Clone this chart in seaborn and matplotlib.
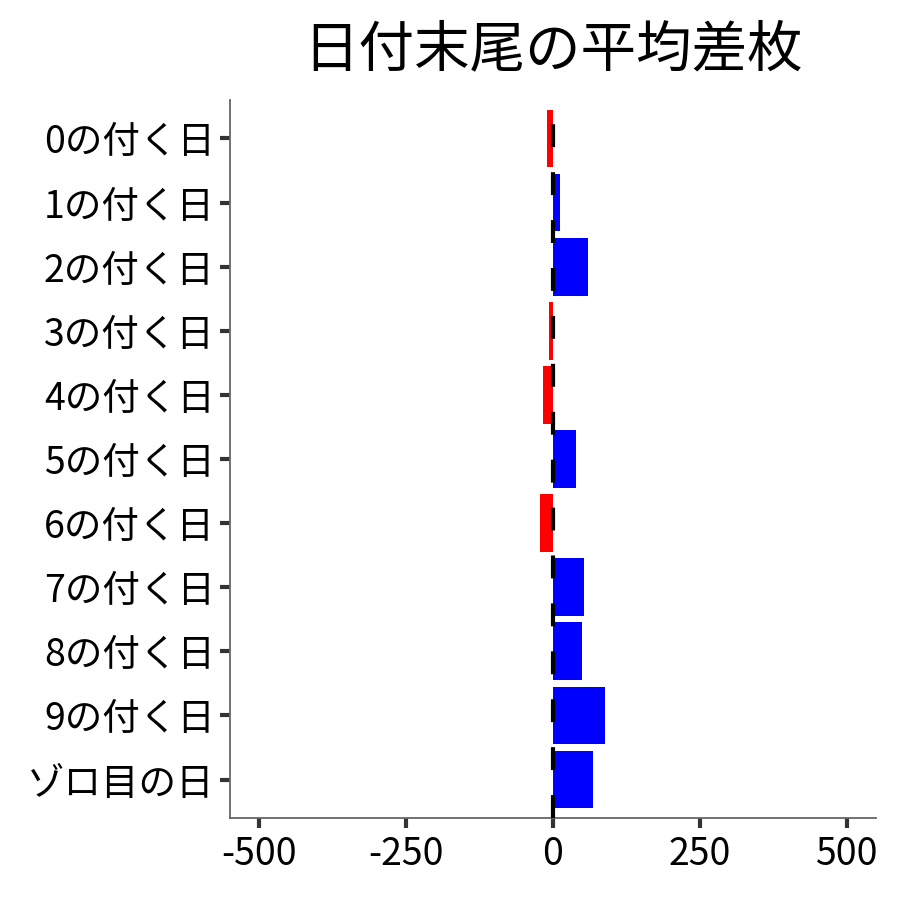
import pandas as pd
import matplotlib
matplotlib.use("Agg")
import matplotlib.pyplot as plt
import seaborn as sns

# データ
categories = ['0の付く日', '1の付く日', '2の付く日', '3の付く日', '4の付く日',
              '5の付く日', '6の付く日', '7の付く日', '8の付く日', '9の付く日',
              'ゾロ目の日']
avg_diff = [-11, 12, 60, -7, -17, 39, -22, 53, 49, 88, 68]
x_ticks = [-500, -250, 0, 250, 500]

df = pd.DataFrame({'day': categories, 'diff': avg_diff})
df['sign'] = ['plus' if v >= 0 else 'minus' for v in df['diff']]

sns.set_style("white")
plt.rcParams['font.family'] = ['Noto Sans CJK JP', 'DejaVu Sans']

fig = plt.figure(figsize=(9, 9), dpi=100)
ax = fig.add_axes([0.2556, 0.0911, 0.7178, 0.7978])

sns.barplot(data=df, y='day', x='diff', hue='sign', order=categories,
            palette={'plus': '#0000FF', 'minus': '#FF0000'},
            orient='h', width=0.9, dodge=False, legend=False, ax=ax,
            saturation=1, linewidth=0)

# 0 の位置に破線
ax.axvline(0, color='black', linestyle=(0, (5.5, 6)), lw=3, zorder=5)

ax.set_xlim(-550, 550)
ax.set_ylim(len(categories) - 0.4, -0.6)
ax.set_xticks(x_ticks)
ax.set_xticklabels([str(t) for t in x_ticks])
ax.set_xlabel('')
ax.set_ylabel('')
ax.set_title('日付末尾の平均差枚', fontsize=40, pad=24, color='black')

for side in ['top', 'right']:
    ax.spines[side].set_visible(False)
for side in ['left', 'bottom']:
    ax.spines[side].set_color('#666666')
    ax.spines[side].set_linewidth(1.3)

ax.tick_params(axis='both', which='major', bottom=True, left=True,
               length=7, width=3, color='#333333',
               labelsize=27, labelcolor='black')
ax.tick_params(axis='y', pad=4)
ax.tick_params(axis='x', pad=5)

fig.savefig('out.png', dpi=100)
